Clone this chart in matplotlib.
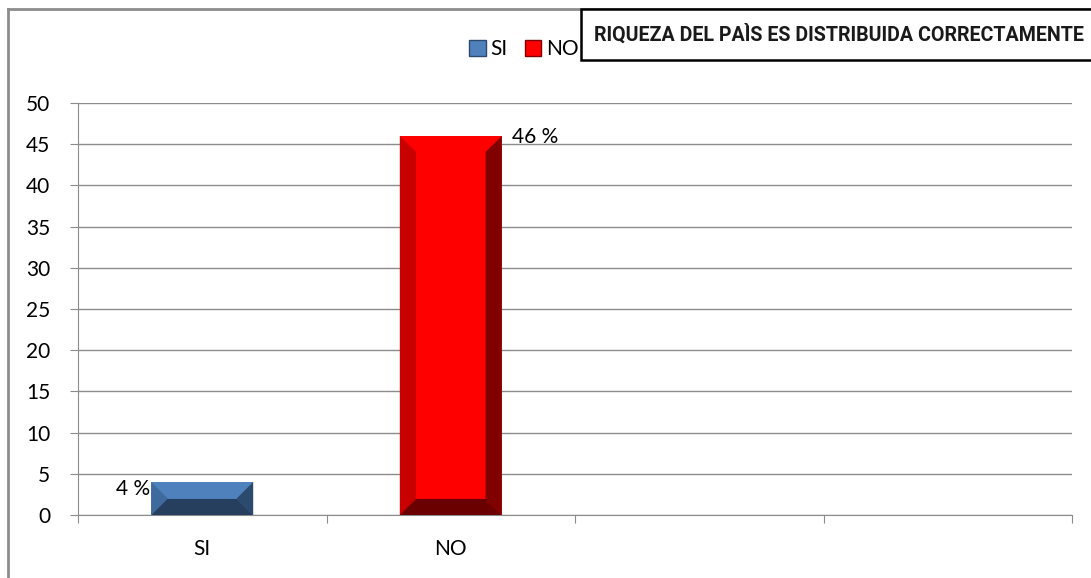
import matplotlib
matplotlib.use("Agg")
import matplotlib.pyplot as plt
from matplotlib.patches import Polygon, Rectangle, Patch
from matplotlib.lines import Line2D

# data
categories = ["SI", "NO", "", ""]
values = [4, 46]
labels = ["4 %", "46 %"]
series_names = ["SI", "NO"]
title = "RIQUEZA DEL PAÌS ES DISTRIBUIDA CORRECTAMENTE"

# face, left bevel, right bevel, bottom bevel
colors = [
    ("#4F81BD", "#3F6A9E", "#2C4A6E", "#263F5E"),
    ("#FF0000", "#C80000", "#800000", "#6A0000"),
]

W, H = 1091, 578
fig = plt.figure(figsize=(W / 100, H / 100), dpi=100)
ax = fig.add_axes([78 / W, 1 - 515 / H, (1072 - 78) / W, (515 - 103) / H])

grid_c = "#8C8C8C"
font = "Lato"
bar_w = 0.41
bev_x = 0.065
bev_y = 1.95

for i, (v, (face, left, right, bottom)) in enumerate(zip(values, colors)):
    x0 = i - bar_w / 2
    x1 = i + bar_w / 2
    dy = min(bev_y, v / 2)
    ax.bar(i, v, width=bar_w, color=face, linewidth=0, zorder=3)
    polys = [
        ([(x0, 0), (x0 + bev_x, dy), (x0 + bev_x, v - dy), (x0, v)], left),
        ([(x1, 0), (x1 - bev_x, dy), (x1 - bev_x, v - dy), (x1, v)], right),
        ([(x0, 0), (x1, 0), (x1 - bev_x, dy), (x0 + bev_x, dy)], bottom),
    ]
    for pts, c in polys:
        ax.add_patch(Polygon(pts, closed=True, facecolor=c, edgecolor="none", zorder=4))

# value labels
ax.text(0 - bar_w / 2 - 0.005, values[0] - 0.8, labels[0], ha="right", va="center",
        fontsize=15, family=font, zorder=5)
ax.text(1 + bar_w / 2 + 0.04, values[1] - 0.1, labels[1], ha="left", va="center",
        fontsize=15, family=font, zorder=5)

ax.set_xlim(-0.5, len(categories) - 0.5)
ax.set_ylim(0, 50)
ax.set_yticks(range(0, 51, 5))
ax.yaxis.grid(True, color=grid_c, linewidth=1)
ax.set_axisbelow(True)
for s in ["top", "right"]:
    ax.spines[s].set_visible(False)
ax.spines["left"].set_color(grid_c)
ax.spines["bottom"].set_color(grid_c)

ax.set_xticks([i - 0.5 for i in range(len(categories) + 1)])
ax.set_xticklabels([])
ax.set_xticks(range(len(categories)), minor=True)
ax.set_xticklabels(categories, minor=True)
ax.tick_params(axis="x", which="major", length=6, color=grid_c, direction="out")
ax.tick_params(axis="x", which="minor", length=0, pad=17, labelsize=15)
ax.tick_params(axis="y", length=6, color=grid_c, pad=14, labelsize=15)
for lab in ax.get_xticklabels(minor=True) + ax.get_yticklabels():
    lab.set_family(font)

# legend
handles = [Patch(facecolor=colors[0][0], edgecolor=colors[0][2]),
           Patch(facecolor=colors[1][0], edgecolor=colors[1][2])]
fig.legend(handles, series_names, loc="center right", bbox_to_anchor=(579 / W, 1 - 49 / H),
           ncol=2, frameon=False, prop={"family": font, "size": 15},
           handlelength=0.8, handleheight=0.8, handletextpad=0.25, columnspacing=0.8,
           borderpad=0, borderaxespad=0)

# outer frame (top and left only, rest cut off)
fig.add_artist(Line2D([8 / W, 1], [1 - 9 / H, 1 - 9 / H], color="#8C8C8C", lw=2,
                      transform=fig.transFigure))
fig.add_artist(Line2D([8 / W, 8 / W], [1 - 9 / H, 0], color="#8C8C8C", lw=2,
                      transform=fig.transFigure))

# title box
fig.add_artist(Rectangle((581 / W, 1 - 60 / H), (1100 - 581) / W, 51 / H,
                         transform=fig.transFigure, facecolor="white",
                         edgecolor="black", lw=1.8, zorder=10))
fig.text(839 / W, 1 - 34 / H, title, ha="center", va="center", fontsize=14.1,
         fontweight="bold", family=["Roboto", "DejaVu Sans"],
         fontstretch="condensed", color="#1a1a1a", zorder=11)

fig.savefig("out.png", dpi=100)
